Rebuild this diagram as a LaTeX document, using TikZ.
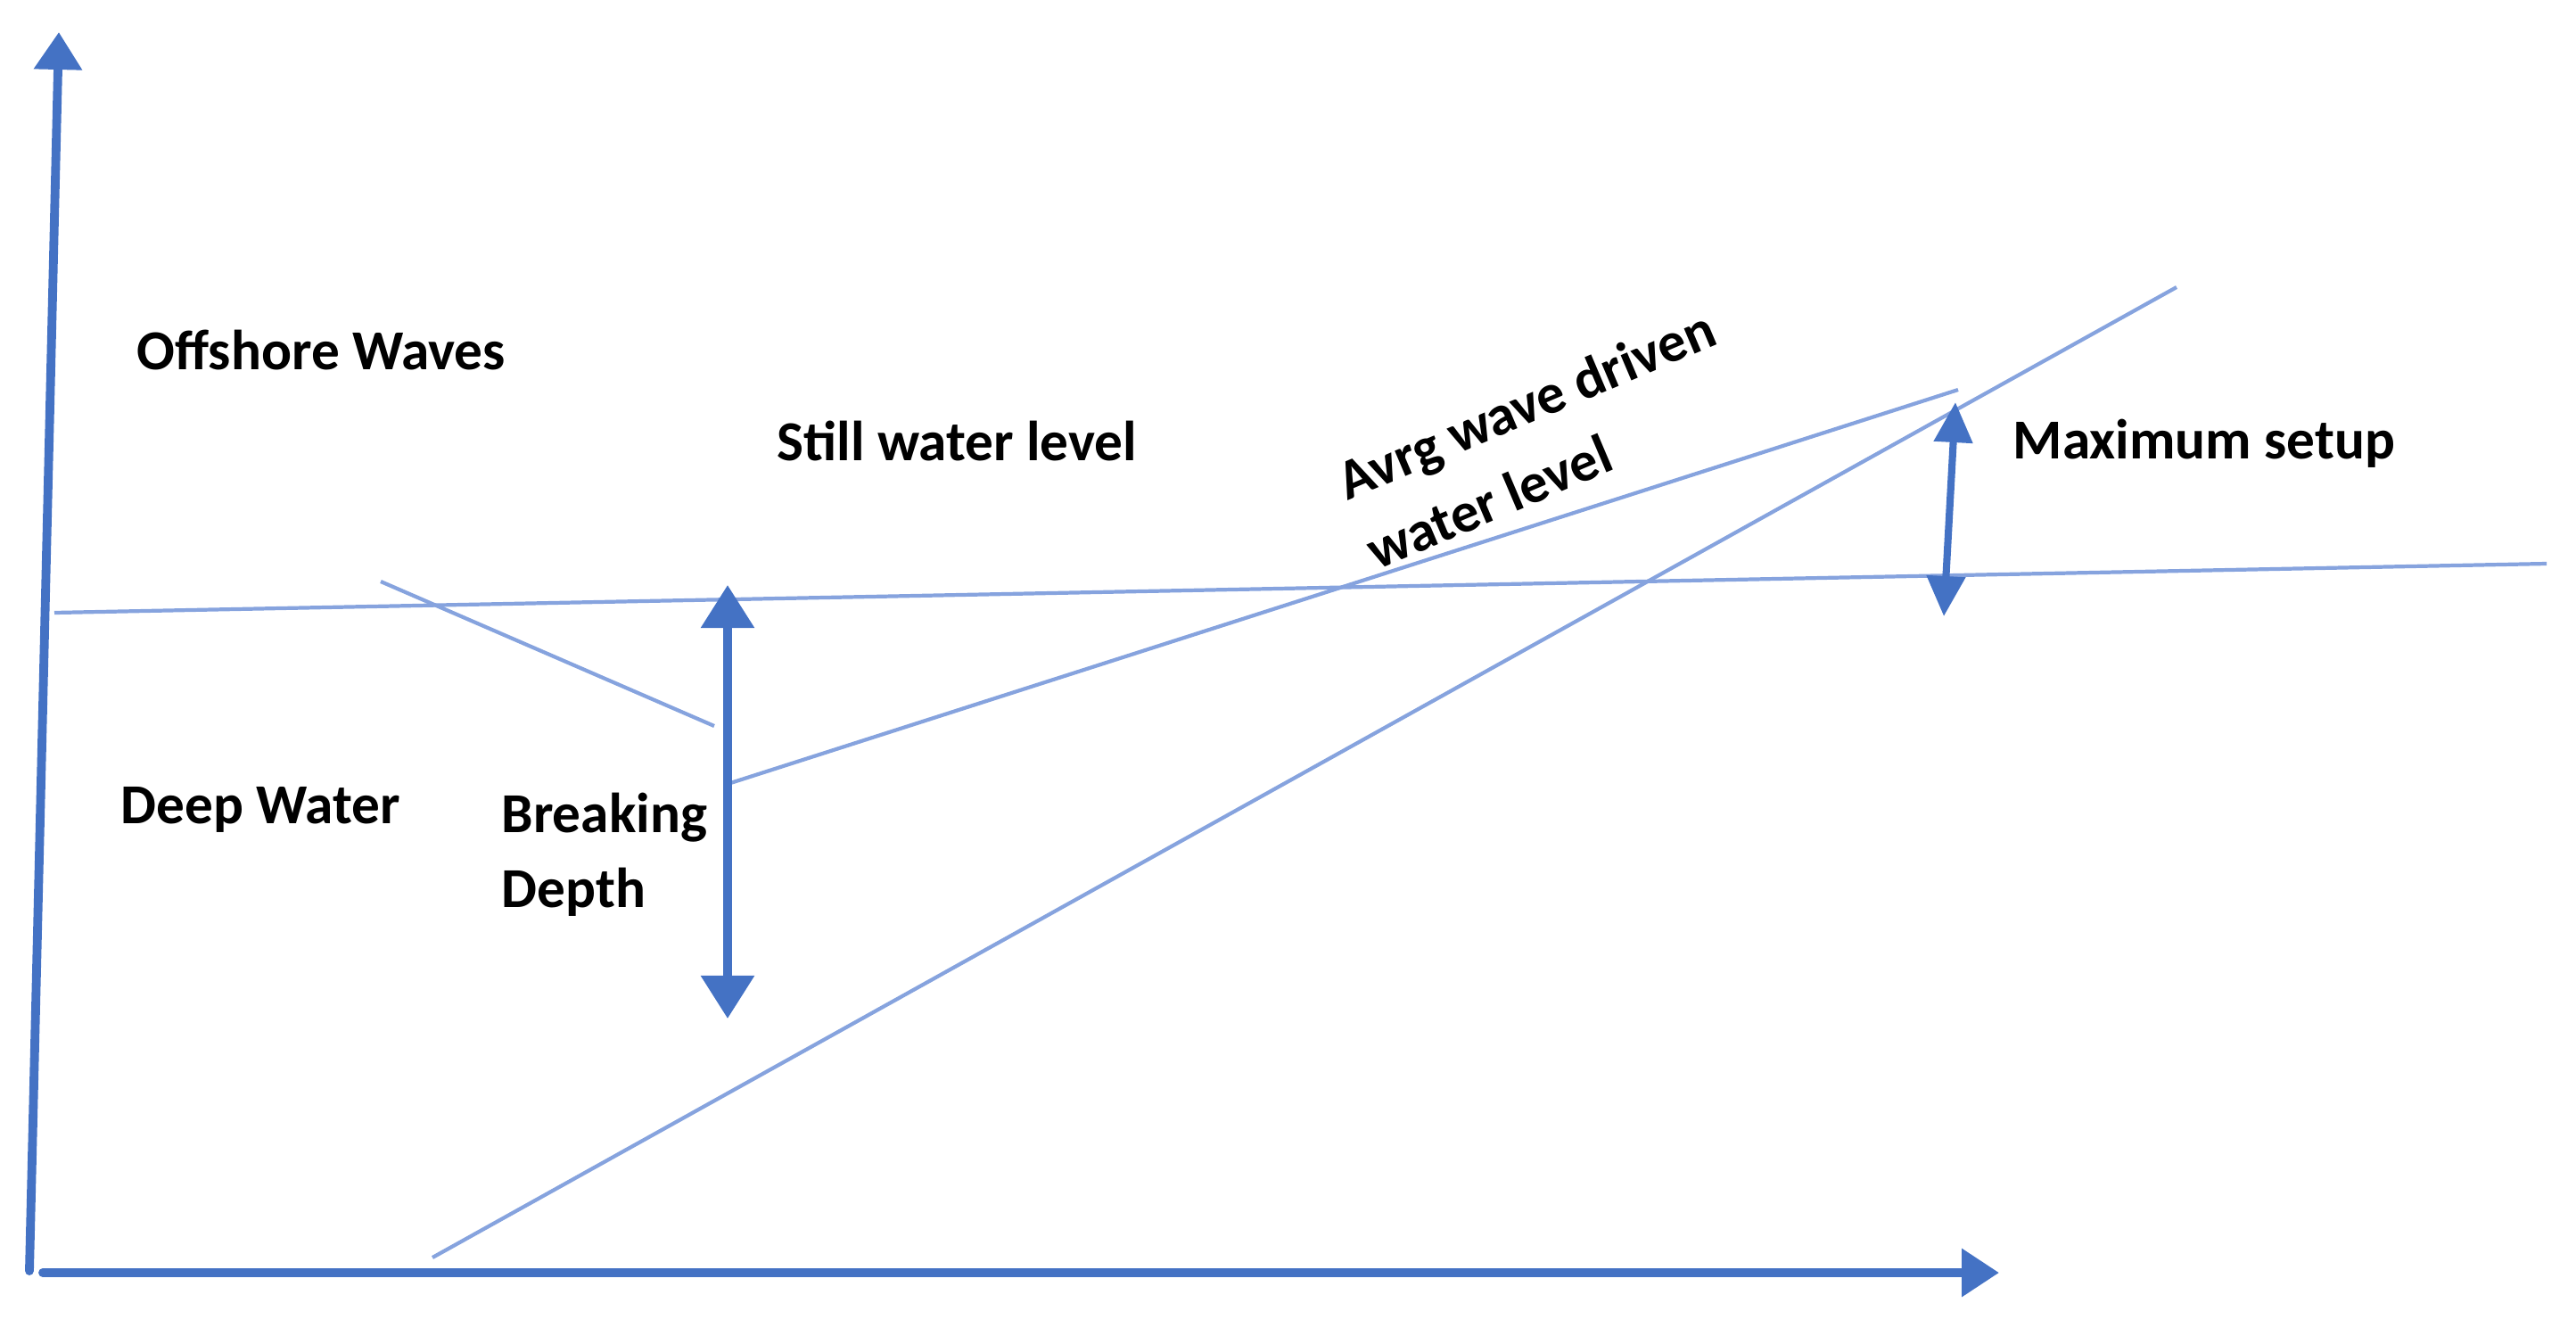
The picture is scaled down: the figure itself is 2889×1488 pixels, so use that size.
\documentclass[tikz,border=0pt]{standalone}
\usepackage{fontspec}
\setmainfont{Carlito}
\usepackage{xcolor}
\usetikzlibrary{arrows.meta, positioning}
\definecolor{axisblue}{HTML}{4472C4}
\definecolor{lineblue}{HTML}{86A3DE}

\begin{document}
\begin{tikzpicture}[
    x=0.01cm, y=-0.01cm,
    lbl/.style={font=\fontsize{18}{24}\selectfont\bfseries, inner sep=0pt, align=left},
    axisarrow/.style={-{Triangle[length=0.42cm, width=0.52cm]}, line width=2.8pt, axisblue, line cap=round},
    dimarrow/.style={{Triangle[length=0.48cm, width=0.58cm]}-{Triangle[length=0.48cm, width=0.58cm]}, line width=2.6pt, axisblue},
    setuparrow/.style={{Triangle[length=0.45cm, width=0.42cm]}-{Triangle[length=0.45cm, width=0.42cm]}, line width=2.3pt, axisblue},
    waterline/.style={line width=1.2pt, lineblue},
]
    \useasboundingbox (0,0) rectangle (2889,1488);

    % axes
    \coordinate (yorg) at (33,1425);
    \coordinate (ytop) at (66,36);
    \coordinate (xorg) at (48,1427);
    \coordinate (xend) at (2242,1427);
    \draw[axisarrow] (yorg) -- (ytop);
    \draw[axisarrow] (xorg) -- (xend);

    % levels and beach
    \coordinate (swlW) at (61,687);
    \coordinate (swlE) at (2856,632);
    \coordinate (brkW) at (427,652);
    \coordinate (brkE) at (801,814);
    \coordinate (avgW) at (816,879);
    \coordinate (avgE) at (2196,437);
    \coordinate (beachS) at (485,1410);
    \coordinate (beachN) at (2441,322);
    \foreach \a/\b in {swlW/swlE, brkW/brkE, avgW/avgE, beachS/beachN}
        \draw[waterline] (\a) -- (\b);

    % dimension arrows
    \coordinate (bdTop) at (816,656);
    \coordinate (bdBot) at (816,1142);
    \coordinate (msTop) at (2193,451);
    \coordinate (msBot) at (2180,691);
    \draw[dimarrow] (bdBot) -- (bdTop);
    \draw[setuparrow] (msBot) -- (msTop);

    % labels
    \node[lbl, anchor=west] (offshore) at (153,392) {Offshore Waves};
    \node[lbl, anchor=west] (swl) at (871,494) {Still water level};
    \node[lbl, anchor=west] (deep) at (135,908) {Deep Water};
    \node[lbl, anchor=west] (brkdepth) at (562,958) {Breaking\\Depth};
    \node[lbl, anchor=west] (setup) at (2257,497) {Maximum setup};
    \node[lbl, rotate=23] (avglbl) at (1728,492) {Avrg wave driven\\water level};
\end{tikzpicture}
\end{document}
